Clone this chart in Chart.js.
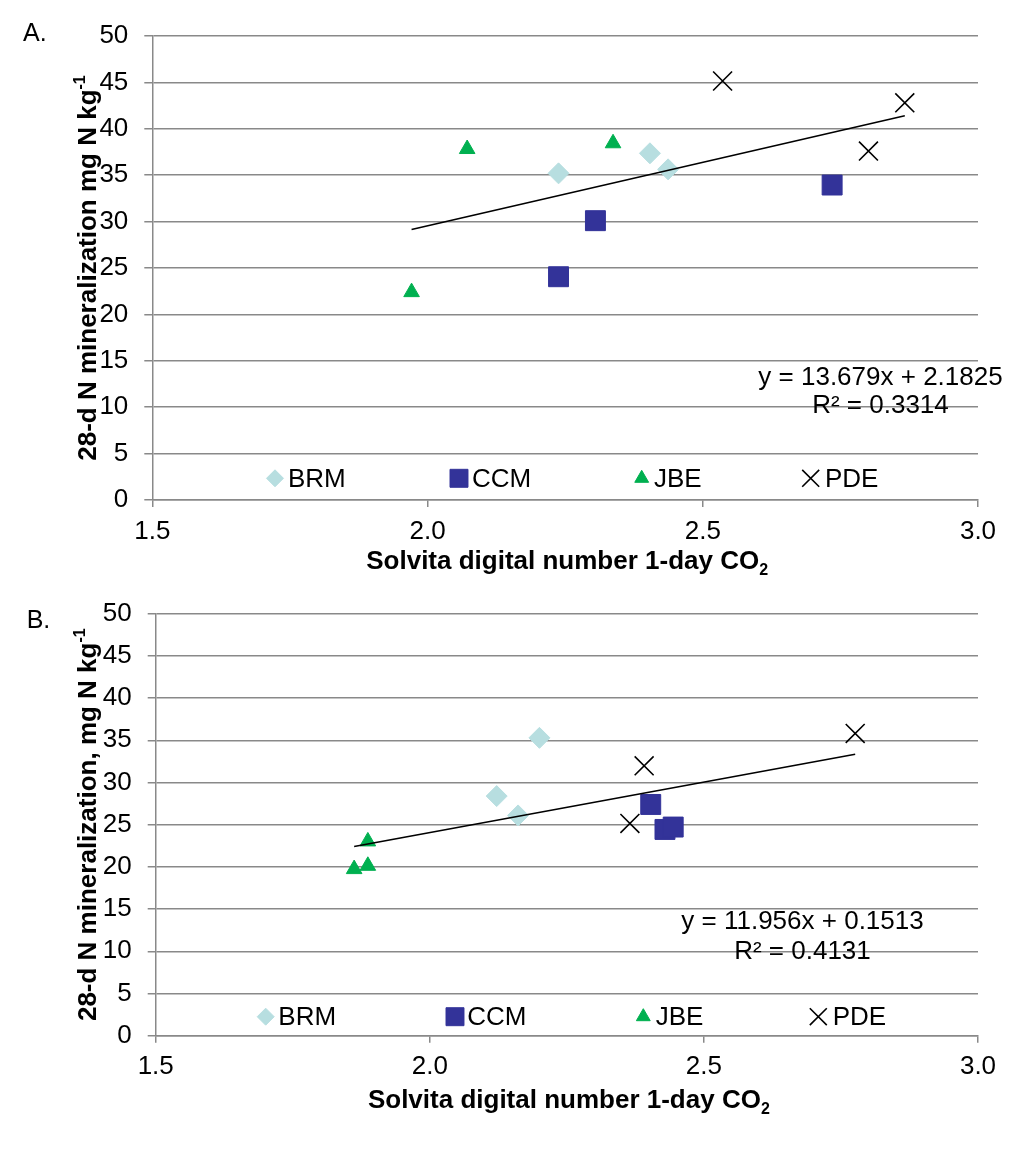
<!DOCTYPE html>
<html><head><meta charset="utf-8">
<script src="https://cdn.jsdelivr.net/npm/chart.js@4.4.0/dist/chart.umd.min.js"></script>
<style>
html,body{margin:0;padding:0;background:#fff;}
#wrap{position:relative;width:1031px;height:1156px;background:#fff;}
.box{position:absolute;left:0;width:1031px;height:578px;}
canvas{display:block;}
</style></head><body>
<div id="wrap">
<div class="box" style="top:0"><canvas id="cA" width="1031" height="578"></canvas></div>
<div class="box" style="top:578px"><canvas id="cB" width="1031" height="578"></canvas></div>
</div>
<script>
// ---------- data ----------
const SERIES = ['BRM', 'CCM', 'JBE', 'PDE'];
const X_MIN = 1.5, X_MAX = 3.0, X_STEP = 0.5;
const Y_MIN = 0, Y_MAX = 50, Y_STEP = 5;

// Panel A
const A_BRM_X = [2.238, 2.404, 2.437];
const A_BRM_Y = [35.2, 37.36, 35.63];
const A_CCM_X = [2.238, 2.305, 2.735];
const A_CCM_Y = [24.06, 30.1, 33.94];
const A_JBE_X = [1.971, 2.072, 2.337];
const A_JBE_Y = [22.4, 37.82, 38.44];
const A_PDE_X = [2.536, 2.867, 2.801];
const A_PDE_Y = [45.15, 42.8, 37.6];
const A_SLOPE = 13.679, A_INTERCEPT = 2.1825, A_R2 = '0.3314';

// Panel B
const B_BRM_X = [2.122, 2.200, 2.161];
const B_BRM_Y = [28.39, 35.29, 26.1];
const B_CCM_X = [2.403, 2.429, 2.444];
const B_CCM_Y = [27.4, 24.44, 24.72];
const B_JBE_X = [1.862, 1.887, 1.887];
const B_JBE_Y = [19.74, 20.13, 23.02];
const B_PDE_X = [2.391, 2.365, 2.776];
const B_PDE_Y = [31.98, 25.15, 35.81];
const B_SLOPE = 11.956, B_INTERCEPT = 0.1513, B_R2 = '0.4131';

// ---------- styles ----------
const FONT = "'Liberation Sans', Arial, Helvetica, sans-serif";
const GRID = '#898989';
const STYLE = {
  BRM: {pointStyle: 'rectRot', radius: 10.5, bg: '#b7dee0', border: '#b7dee0', bw: 1, lr: 8.5},
  CCM: {pointStyle: 'rect', radius: 14.1, bg: '#333399', border: '#333399', bw: 1, lr: 12.7},
  JBE: {pointStyle: 'triangle', radius: 9, bg: '#00b050', border: '#00b050', bw: 1, lr: 8},
  PDE: {pointStyle: 'crossRot', radius: 13.4, bg: '#000', border: '#000', bw: 1.6, lr: 12}
};

function pts(xs, ys) { return xs.map((x, i) => ({x: x, y: ys[i]})); }

function drawMarker(ctx, st, r, x, y) {
  ctx.save();
  ctx.fillStyle = st.bg; ctx.strokeStyle = st.border; ctx.lineWidth = st.bw;
  if (Chart.helpers && Chart.helpers.drawPoint) {
    Chart.helpers.drawPoint(ctx, {pointStyle: st.pointStyle, radius: r, rotation: 0, borderWidth: st.bw}, x, y);
  }
  ctx.restore();
}

function makeChart(id, P) {
  const H = 578;
  const sets = P.series.map((s, i) => {
    const st = STYLE[s.name];
    return {
      label: s.name, data: pts(s.x, s.y), showLine: false,
      pointStyle: st.pointStyle, pointRadius: st.radius, pointHoverRadius: st.radius,
      pointBackgroundColor: st.bg, pointBorderColor: st.border, pointBorderWidth: st.bw,
      order: 10 - i
    };
  });
  const allX = [].concat(...P.series.map(s => s.x));
  const x0 = Math.min(...allX), x1 = Math.max(...allX);
  sets.push({
    label: 'trend', data: [{x: x0, y: P.slope * x0 + P.intercept}, {x: x1, y: P.slope * x1 + P.intercept}],
    showLine: true, pointRadius: 0, borderColor: '#000', borderWidth: 1.6, order: 0
  });

  const textPlugin = {
    id: 'txt' + id,
    afterDraw(chart) {
      const ctx = chart.ctx; const a = chart.chartArea;
      ctx.save();
      ctx.fillStyle = '#000';
      ctx.textBaseline = 'alphabetic';
      // panel label
      ctx.font = '25px ' + FONT; ctx.textAlign = 'left';
      ctx.fillText(P.panel, P.panelX, P.panelY);
      // equation
      ctx.font = '26px ' + FONT; ctx.textAlign = 'center';
      ctx.fillText('y = ' + P.slope + 'x + ' + P.intercept, P.eqX, P.eqY1);
      ctx.fillText('R\u00b2 = ' + P.r2, P.eqX, P.eqY2);
      // legend
      ctx.textAlign = 'left';
      P.series.forEach((s, i) => {
        const st = STYLE[s.name];
        drawMarker(ctx, st, st.lr, P.legMX[i], P.legMY);
        ctx.fillStyle = '#000'; ctx.font = '26px ' + FONT;
        ctx.fillText(s.name, P.legTX[i], P.legTY);
      });
      // x title with subscript
      const xt = 'Solvita digital number 1-day CO', xs = '2';
      ctx.font = 'bold 26px ' + FONT; const w1 = ctx.measureText(xt).width;
      ctx.font = 'bold 16px ' + FONT; const w2 = ctx.measureText(xs).width;
      const cx = (a.left + a.right) / 2 + 2, sx = cx - (w1 + w2) / 2;
      const by = a.bottom + P.xtOff;
      ctx.font = 'bold 26px ' + FONT; ctx.fillText(xt, sx, by);
      ctx.font = 'bold 16px ' + FONT; ctx.fillText(xs, sx + w1, by + 6);
      // y title with superscript
      ctx.save();
      ctx.translate(P.ytX, (a.top + a.bottom) / 2);
      ctx.rotate(-Math.PI / 2);
      ctx.font = 'bold 26px ' + FONT; const y1 = ctx.measureText(P.yTitle).width;
      ctx.font = 'bold 16px ' + FONT; const y2 = ctx.measureText('-1').width;
      const sy = -(y1 + y2) / 2;
      ctx.font = 'bold 26px ' + FONT; ctx.fillText(P.yTitle, sy, 0);
      ctx.font = 'bold 16px ' + FONT; ctx.fillText('-1', sy + y1, -11);
      ctx.restore();
      ctx.restore();
    }
  };

  return new Chart(document.getElementById(id), {
    type: 'scatter',
    data: {datasets: sets},
    options: {
      responsive: false, animation: false, events: [],
      layout: {padding: {left: 0, top: P.top, right: 1031 - P.right, bottom: 0}},
      plugins: {legend: {display: false}, tooltip: {enabled: false}, title: {display: false}},
      scales: {
        x: {
          type: 'linear', min: X_MIN, max: X_MAX,
          afterFit: s => { s.height = H - P.bottom; },
          ticks: {stepSize: X_STEP, color: '#000', padding: 9, font: {family: FONT, size: 26},
                  callback: v => Number(v).toFixed(1)},
          grid: {display: true, drawOnChartArea: false, drawTicks: true, tickLength: 7, color: GRID, lineWidth: 1.5},
          border: {display: true, color: GRID, width: 1.5}
        },
        y: {
          type: 'linear', min: Y_MIN, max: Y_MAX,
          afterFit: s => { s.width = P.left; },
          ticks: {stepSize: Y_STEP, color: '#000', padding: 16, font: {family: FONT, size: 26}},
          grid: {display: true, drawTicks: true, tickLength: 8, color: GRID, lineWidth: 1.5},
          border: {display: true, color: GRID, width: 1.5}
        }
      }
    },
    plugins: [textPlugin]
  });
}

makeChart('cA', {
  panel: 'A.', panelX: 23, panelY: 40.7,
  left: 152.3, right: 978, top: 36, bottom: 500,
  series: [
    {name: 'BRM', x: A_BRM_X, y: A_BRM_Y},
    {name: 'CCM', x: A_CCM_X, y: A_CCM_Y},
    {name: 'JBE', x: A_JBE_X, y: A_JBE_Y},
    {name: 'PDE', x: A_PDE_X, y: A_PDE_Y}
  ],
  slope: A_SLOPE, intercept: A_INTERCEPT, r2: A_R2,
  eqX: 880.5, eqY1: 385, eqY2: 413.3,
  legMX: [275, 459, 641.7, 810.7], legTX: [288, 472, 654, 825], legMY: 478.3, legTY: 486.7,
  xtOff: 69.3, ytX: 96,
  yTitle: '28-d N mineralization mg N kg'
});

makeChart('cB', {
  panel: 'B.', panelX: 26.7, panelY: 49.7,
  left: 155.7, right: 978, top: 35.7, bottom: 457.7,
  series: [
    {name: 'BRM', x: B_BRM_X, y: B_BRM_Y},
    {name: 'CCM', x: B_CCM_X, y: B_CCM_Y},
    {name: 'JBE', x: B_JBE_X, y: B_JBE_Y},
    {name: 'PDE', x: B_PDE_X, y: B_PDE_Y}
  ],
  slope: B_SLOPE, intercept: B_INTERCEPT, r2: B_R2,
  eqX: 802.5, eqY1: 351, eqY2: 381,
  legMX: [265.7, 455, 643.3, 818.3], legTX: [278.3, 467.3, 655.7, 832.7], legMY: 438.7, legTY: 447,
  xtOff: 72.6, ytX: 96,
  yTitle: '28-d N mineralization, mg N kg'
});
</script>
</body></html>
